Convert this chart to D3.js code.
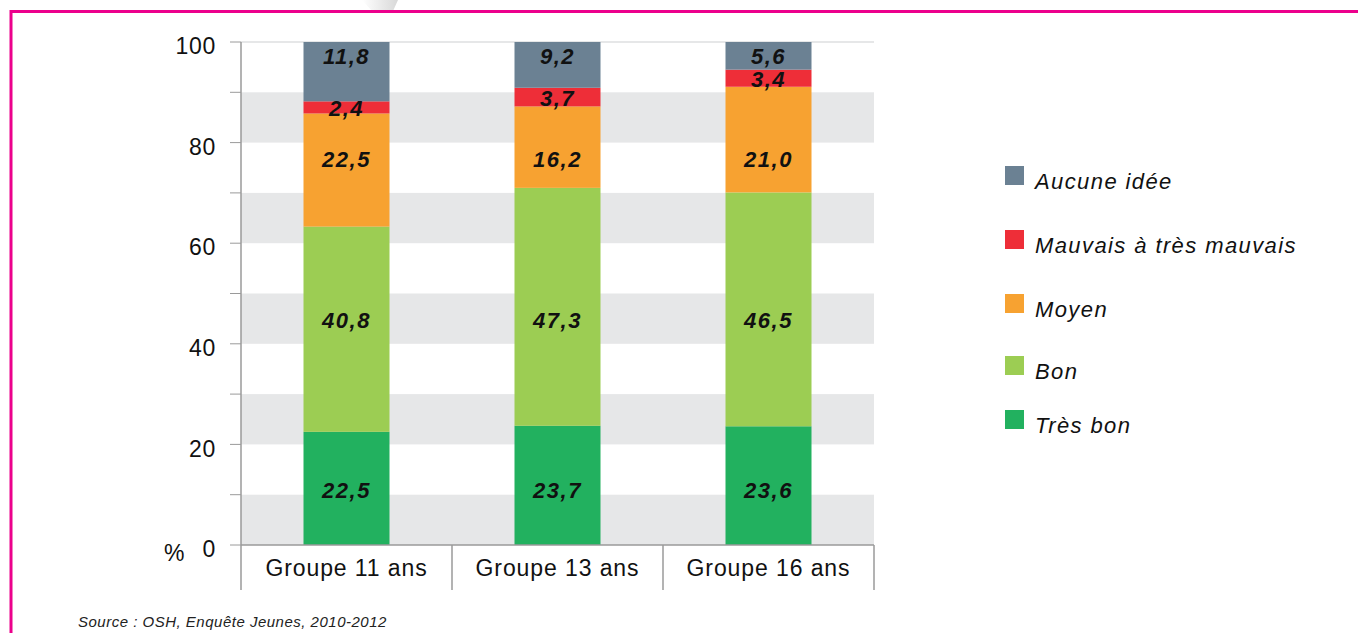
<!DOCTYPE html>
<html><head><meta charset="utf-8">
<script src="https://cdn.jsdelivr.net/npm/d3@7"></script>
<style>body{margin:0;background:#fff}svg{display:block;font-family:"Liberation Sans",Arial,sans-serif}</style>
</head><body><svg id="c" width="1358" height="633"></svg>
<script>
const categories = ["Groupe 11 ans","Groupe 13 ans","Groupe 16 ans"];
const seriesNames = ["Très bon","Bon","Moyen","Mauvais à très mauvais","Aucune idée"];
const tresBon = [22.5,23.7,23.6];
const bon = [40.8,47.3,46.5];
const moyen = [22.5,16.2,21.0];
const mauvais = [2.4,3.7,3.4];
const aucune = [11.8,9.2,5.6];
const yTicks = [0,20,40,60,80,100];
// value level where each series' label row sits (null = centred in segment)
const labelLevel = [10.9, 44.8, 76.8, null, 97.2];
const colors = ["#22b15f","#9ccd53","#f7a231","#ee2e38","#6b8193"];
const legendOrder = ["Aucune idée","Mauvais à très mauvais","Moyen","Bon","Très bon"];
const legendY = [176,240,304,366,420];

const svg = d3.select("#c");
// page curl shadow
const grad = svg.append("defs").append("linearGradient").attr("id","curl").attr("x1","0").attr("x2","1");
grad.append("stop").attr("offset","0").attr("stop-color","#ffffff");
grad.append("stop").attr("offset","1").attr("stop-color","#d8d8d8");
svg.append("polygon").attr("points","362,0 398,0 393,11 372,11").attr("fill","url(#curl)");
// frame
svg.append("path").attr("d","M11,640 L11,11.5 L1370,11.5").attr("fill","none").attr("stroke","#ec008c").attr("stroke-width",3);

const x0=241,x1=874,yTop=42,yBot=545;
const x = d3.scaleBand().domain(categories).range([x0,x1]).paddingInner(0).paddingOuter(0);
const y = d3.scaleLinear().domain([0,100]).range([yBot,yTop]);
// bands
[0,20,40,60,80].forEach(v=>{
  svg.append("rect").attr("x",x0).attr("width",x1-x0).attr("y",y(v+10)).attr("height",y(v)-y(v+10)).attr("fill","#e6e7e8");
});
svg.append("line").attr("x1",x0).attr("x2",x1).attr("y1",y(100)).attr("y2",y(100)).attr("stroke","#e6e7e8").attr("stroke-width",2);

const data = categories.map((c,i)=>({cat:c,"Très bon":tresBon[i],"Bon":bon[i],"Moyen":moyen[i],"Mauvais à très mauvais":mauvais[i],"Aucune idée":aucune[i]}));
const stack = d3.stack().keys(seriesNames)(data);
const bw = 86;
const g = svg.append("g");
stack.forEach((s,si)=>{
  s.forEach((d,i)=>{
    const top = Math.max(y(d[1]), yTop);
    const cx = x(categories[i])+x.bandwidth()/2;
    g.append("rect").attr("x",cx-bw/2).attr("width",bw).attr("y",top).attr("height",y(d[0])-top).attr("fill",colors[si]);
  });
});
stack.forEach((s,si)=>{
  s.forEach((d,i)=>{
    const top = Math.max(y(d[1]), yTop);
    const cx = x(categories[i])+x.bandwidth()/2;
    const v = d[1]-d[0];
    const ly = labelLevel[si]==null ? (top+y(d[0]))/2 + 1 : y(labelLevel[si]);
    g.append("text").attr("x",cx).attr("y",ly).attr("dy","0.36em").attr("text-anchor","middle")
      .attr("font-size",22).attr("font-weight","bold").attr("font-style","italic").attr("letter-spacing","1.5px").attr("fill","#111")
      .text(v.toFixed(1).replace(".",","));
  });
});

// y axis
const ax = svg.append("g").attr("stroke","#9a9a9a");
ax.append("line").attr("x1",x0).attr("x2",x0).attr("y1",yTop).attr("y2",yBot).attr("stroke-width",1.5);
d3.range(0,101,10).forEach(v=>{
  ax.append("line").attr("x1",x0-11).attr("x2",x0).attr("y1",y(v)).attr("y2",y(v)).attr("stroke-width",1);
});
svg.append("g").selectAll("text").data(yTicks).join("text")
  .attr("x",216).attr("y",d=>y(d)+4).attr("dy","0.36em").attr("text-anchor","end").attr("font-size",23).attr("letter-spacing","0.7px").attr("fill","#111").text(d=>d);
svg.append("text").attr("x",164).attr("y",y(0)+8).attr("dy","0.36em").attr("font-size",23).attr("fill","#111").text("%");

// x axis
ax.append("line").attr("x1",x0).attr("x2",x1).attr("y1",yBot).attr("y2",yBot).attr("stroke-width",1.5);
[x0, ...categories.map(c=>x(c)+x.bandwidth())].forEach(px=>{
  ax.append("line").attr("x1",px).attr("x2",px).attr("y1",yBot).attr("y2",590).attr("stroke-width",1.5);
});
svg.append("g").selectAll("text").data(categories).join("text")
  .attr("x",d=>x(d)+x.bandwidth()/2).attr("y",568).attr("dy","0.36em").attr("text-anchor","middle").attr("font-size",23).attr("letter-spacing","0.9px").attr("fill","#111").text(d=>d);

// legend
legendOrder.forEach((n,i)=>{
  const ci = seriesNames.indexOf(n);
  svg.append("rect").attr("x",1005).attr("y",legendY[i]-10).attr("width",19).attr("height",19).attr("fill",colors[ci]);
  svg.append("text").attr("x",1035).attr("y",legendY[i]+5).attr("dy","0.36em").attr("font-size",22).attr("font-style","italic").attr("letter-spacing","1.4px").attr("fill","#111").text(n);
});

svg.append("text").attr("x",78).attr("y",622).attr("dy","0.36em").attr("font-size",15).attr("font-style","italic").attr("letter-spacing","0.5px").attr("fill","#222").text("Source : OSH, Enquête Jeunes, 2010-2012");
</script></body></html>
